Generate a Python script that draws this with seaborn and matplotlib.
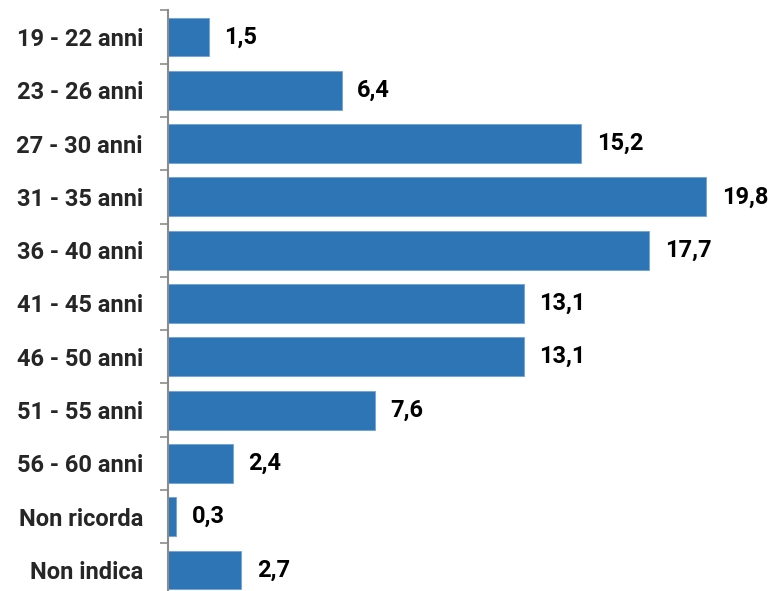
import matplotlib
matplotlib.use("Agg")
import matplotlib.pyplot as plt
import seaborn as sns
import pandas as pd
import numpy as np

# data
categories = ["19 - 22 anni", "23 - 26 anni", "27 - 30 anni", "31 - 35 anni",
              "36 - 40 anni", "41 - 45 anni", "46 - 50 anni", "51 - 55 anni",
              "56 - 60 anni", "Non ricorda", "Non indica"]
values = [1.5, 6.4, 15.2, 19.8, 17.7, 13.1, 13.1, 7.6, 2.4, 0.3, 2.7]

df = pd.DataFrame({"categoria": categories, "valore": values})

sns.set_style("white")
plt.rcParams['font.family'] = ['Roboto', 'DejaVu Sans']
plt.rcParams['font.weight'] = 'bold'

fig = plt.figure(figsize=(7.74, 5.91), dpi=100)
ax = fig.add_axes([0.217, -0.0095, 0.773, 0.992])

sns.barplot(data=df, x="valore", y="categoria", orient="h", color="#2E75B6",
            width=0.73, edgecolor="#6FA3D8", linewidth=0.6, saturation=1, ax=ax)

ax.set_xlim(0, 22)
ax.set_ylim(len(categories) - 0.5, -0.5)
ax.set_xlabel("")
ax.set_ylabel("")
ax.set_xticks([])

for side in ["top", "right", "bottom"]:
    ax.spines[side].set_visible(False)
ax.spines["left"].set_color("#8C8C8C")
ax.spines["left"].set_linewidth(1.5)

# small ticks between the categories
ax.set_yticks(np.arange(-0.5, len(categories)), minor=True)
ax.tick_params(axis="y", which="minor", length=6, width=1.2, color="#8C8C8C", left=True)
ax.tick_params(axis="y", which="major", length=0, pad=18, labelsize=17)
for lab in ax.get_yticklabels():
    lab.set_fontweight("bold")

ax.bar_label(ax.containers[0], labels=[f"{v:.1f}".replace(".", ",") for v in values],
             padding=11, fontsize=17, fontweight="bold", color="black")

fig.savefig("out.png", dpi=100)
